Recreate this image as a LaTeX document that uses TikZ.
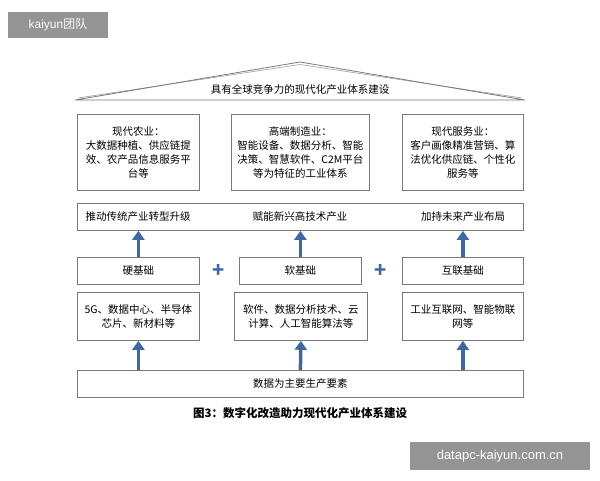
\documentclass[tikz,border=0pt]{standalone}
\usepackage{fontspec}
\setmainfont{Noto Sans CJK SC}
\newfontfamily\wm{Liberation Sans}
\newfontfamily\cjk{Noto Sans CJK SC}
\usetikzlibrary{arrows.meta}
\definecolor{ab}{HTML}{3F68A3}
\definecolor{bx}{HTML}{7A7A7A}
\tikzset{
  box/.style={draw=bx,line width=0.8pt,align=center,inner sep=0pt,font=\fontsize{10.5}{14}\selectfont,anchor=north west},
  lbl/.style={font=\fontsize{10.5}{13}\selectfont},
  up/.style={draw=ab,line width=3.5pt,-{Triangle[length=9pt,width=12pt]}},
  plus/.style={text=ab,font=\bfseries\fontsize{20}{20}\selectfont}
}
\begin{document}
\begin{tikzpicture}[x=1pt,y=-1pt]
\useasboundingbox (0,0) rectangle (600,480);
\fill[white] (0,0) rectangle (600,480);
% watermarks
\node[fill=black!42,text=white,minimum width=100pt,minimum height=26pt,font=\wm\fontsize{12}{12}\selectfont] (wm1) at (58,25) {kaiyun{\cjk 团队}};
\node[fill=black!42,text=white,minimum width=180pt,minimum height=28pt,font=\wm\fontsize{13}{13}\selectfont] (wm2) at (500,456) {datapc-kaiyun.com.cn};
% roof
\draw[bx,line width=0.8pt] (75,100) -- (300,62) -- (525,100) -- cycle;
\draw[bx,line width=0.4pt] (78,98) -- (300,64.5) -- (522,98);
\node[lbl] (roof) at (300,89) {具有全球竞争力的现代化产业体系建设};
% row1
\node[box,minimum width=122pt,minimum height=76pt] (a1) at (77,114) {现代农业：\\大数据种植、供应链提\\效、农产品信息服务平\\台等};
\node[box,minimum width=138pt,minimum height=76pt] (a2) at (231,114) {高端制造业：\\智能设备、数据分析、智能\\决策、智慧软件、C2M平台\\等为特征的工业体系};
\node[box,minimum width=121pt,minimum height=76pt] (a3) at (402,114) {现代服务业：\\客户画像精准营销、算\\法优化供应链、个性化\\服务等};
% band
\node[box,minimum width=446pt,minimum height=27pt] (band) at (77,203) {};
\node[lbl] (b1) at (138,216.5) {推动传统产业转型升级};
\node[lbl] (b2) at (300,216.5) {赋能新兴高技术产业};
\node[lbl] (b3) at (463,216.5) {加持未来产业布局};
% row3
\node[box,minimum width=122pt,minimum height=27pt] (c1) at (77,257) {硬基础};
\node[box,minimum width=122pt,minimum height=27pt] (c2) at (239,257) {软基础};
\node[box,minimum width=121pt,minimum height=27pt] (c3) at (402,257) {互联基础};
\node[plus] (p1) at (219,271) {+};
\node[plus] (p2) at (381,271) {+};
% row4
\node[box,minimum width=122pt,minimum height=48pt] (d1) at (77,292) {5G、数据中心、半导体\\芯片、新材料等};
\node[box,minimum width=133pt,minimum height=48pt] (d2) at (234,292) {软件、数据分析技术、云\\计算、人工智能算法等};
\node[box,minimum width=121pt,minimum height=48pt] (d3) at (402,292) {工业互联网、智能物联\\网等};
% bottom
\node[box,minimum width=446pt,minimum height=27pt] (e) at (77,370) {数据为主要生产要素};
% arrows
\draw[up] (c1.north) -- (c1.north |- band.south);
\draw[up] (c2.north) -- (c2.north |- band.south);
\draw[up] (c3.north) -- (c3.north |- band.south);
\draw[up] (e.north -| d1.south) -- (d1.south);
\draw[up] (e.north) -- (d2.south);
\draw[up] (e.north -| d3.south) -- (d3.south);
% caption
\node[font=\bfseries\fontsize{11.5}{12}\selectfont] (cap) at (300,413) {图3：数字化改造助力现代化产业体系建设};
\end{tikzpicture}
\end{document}
